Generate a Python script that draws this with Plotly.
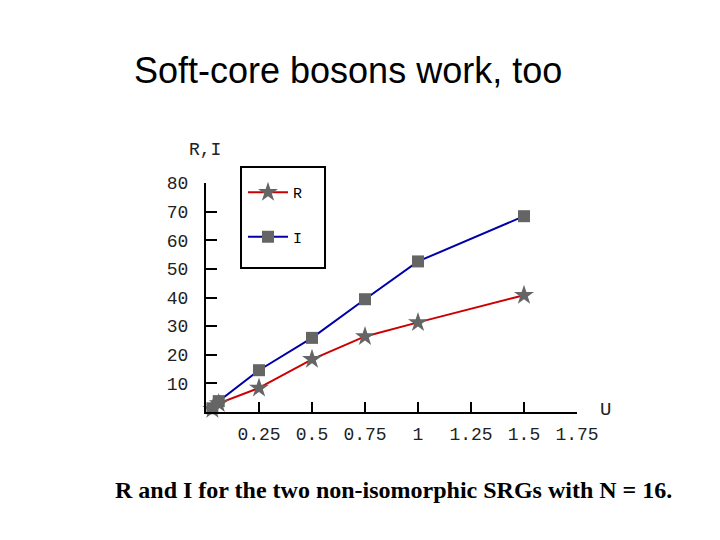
import plotly.graph_objects as go

U = [0.03, 0.06, 0.25, 0.5, 0.75, 1.0, 1.5]
R = [1.0, 3.0, 8.4, 18.4, 26.4, 31.3, 40.8]
I = [1.3, 3.8, 14.6, 25.9, 39.4, 52.6, 68.4]

x_ticks = [0.25, 0.5, 0.75, 1.0, 1.25, 1.5, 1.75]
x_tick_labels = ["0.25", "0.5", "0.75", "1", "1.25", "1.5", "1.75"]
y_ticks = [10, 20, 30, 40, 50, 60, 70, 80]
y_tick_labels = ["10", "20", "30", "40", "50", "60", "70", "80"]

mono = "Liberation Mono"
gray = "#656565"

fig = go.Figure()
fig.add_trace(go.Scatter(
    x=U, y=R, name="R", mode="lines+markers", legendgroup="R",
    line=dict(color="#cc0000", width=2),
    marker=dict(symbol="star", size=15, color=gray),
    cliponaxis=False,
))
fig.add_trace(go.Scatter(
    x=U, y=I, name="I", mode="lines+markers", legendgroup="I",
    line=dict(color="#0000aa", width=2),
    marker=dict(symbol="square", size=12, color=gray),
    cliponaxis=False,
))

OFF = 8  # page body margin
W, H = 720 - OFF, 540 - OFF
L, T, Rm, B = 206 - OFF, 183 - OFF, 143, 128
pw, ph = W - L - Rm, H - T - B


def px(x):
    return (x - OFF - L) / pw


def py(y):
    return (H - B - (y - OFF)) / ph


fig.update_layout(
    width=W, height=H,
    margin=dict(l=L, r=Rm, t=T, b=B),
    paper_bgcolor="white", plot_bgcolor="white",
    showlegend=True,
    legend=dict(
        x=px(243), y=py(176), xanchor="left", yanchor="top",
        borderwidth=0, bgcolor="rgba(0,0,0,0)",
        font=dict(family=mono, size=15, color="black"),
        tracegroupgap=22, itemwidth=40,
    ),
    shapes=[dict(type="rect", xref="paper", yref="paper",
                 x0=px(241), x1=px(325), y0=py(268), y1=py(167),
                 line=dict(color="black", width=2))],
    xaxis=dict(
        range=[0, 1.75], tickvals=x_ticks, ticktext=x_tick_labels,
        ticks="inside", ticklen=10, tickwidth=2, tickcolor="black",
        showline=True, linecolor="black", linewidth=2,
        showgrid=False, zeroline=False, ticklabelstandoff=4,
        tickfont=dict(family=mono, size=18, color="#222"),
    ),
    yaxis=dict(
        range=[0, 80], tickvals=y_ticks, ticktext=y_tick_labels,
        ticks="inside", ticklen=11, tickwidth=2, tickcolor="black",
        showline=True, linecolor="black", linewidth=2,
        showgrid=False, zeroline=False, ticklabelstandoff=12,
        tickfont=dict(family=mono, size=18, color="#222"),
    ),
    annotations=[
        dict(text="Soft-core bosons work, too", xref="paper", yref="paper",
             x=px(348), y=py(70), xanchor="center", yanchor="middle", showarrow=False,
             font=dict(family="Liberation Sans", size=36, color="black")),
        dict(text="<b>R and I for the two non-isomorphic SRGs with N = 16.</b>",
             xref="paper", yref="paper",
             x=px(393), y=py(490), xanchor="center", yanchor="middle", showarrow=False,
             font=dict(family="Liberation Serif", size=24, color="black")),
        dict(text="R,I", xref="paper", yref="paper",
             x=px(205), y=py(150), xanchor="center", yanchor="middle", showarrow=False,
             font=dict(family=mono, size=18, color="#222")),
        dict(text="U", xref="paper", yref="paper",
             x=px(605), y=py(410), xanchor="center", yanchor="middle", showarrow=False,
             font=dict(family=mono, size=19, color="#222")),
    ],
)

fig.write_html("out.html")
